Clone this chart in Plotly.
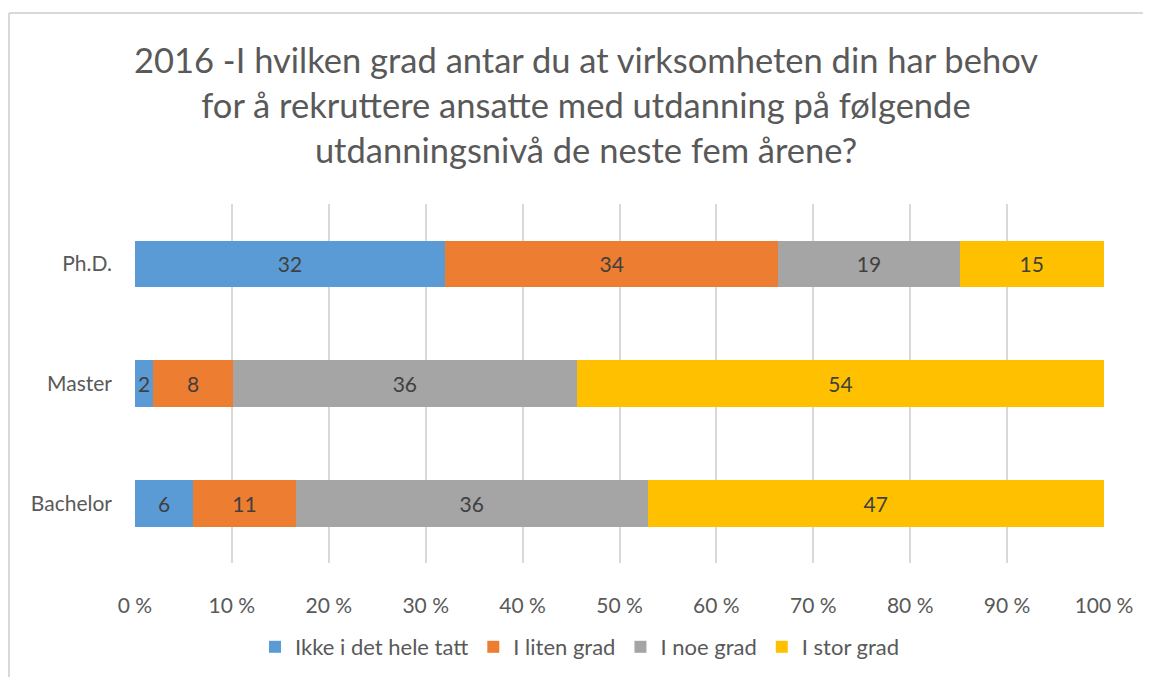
import plotly.graph_objects as go

categories = ["Ph.D.", "Master", "Bachelor"]
series_names = ["Ikke i det hele tatt", "I liten grad", "I noe grad", "I stor grad"]
ikke = [32.0, 1.9, 6.0]
liten = [34.4, 8.2, 10.6]
noe = [18.7, 35.5, 36.3]
stor = [14.9, 54.4, 47.1]
labels_ikke = ["32", "2", "6"]
labels_liten = ["34", "8", "11"]
labels_noe = ["19", "36", "36"]
labels_stor = ["15", "54", "47"]
tick_vals = [0, 10, 20, 30, 40, 50, 60, 70, 80, 90, 100]
tick_text = ["0 %", "10 %", "20 %", "30 %", "40 %", "50 %", "60 %", "70 %", "80 %", "90 %", "100 %"]
colors = ["#5B9BD5", "#ED7D31", "#A5A5A5", "#FFC000"]

FONT = "Lato"
TXT = "#595959"

# page body has an 8px margin; work in screen coordinates and shift
OFF = 8
SW, SH = 1151, 677          # screen size
W, H = SW - OFF, SH - OFF   # figure size
# plot area in screen pixels
X0, X1, Y0, Y1 = 135, 1104, 204, 563
L, R, T, B = X0 - OFF, SW - X1, Y0 - OFF, SH - Y1
pw, ph = X1 - X0, Y1 - Y0

def px(x):
    return (x - X0) / pw

def py(y):
    return (Y1 - y) / ph

fig = go.Figure()
for name, vals, labs, col in zip(series_names, [ikke, liten, noe, stor],
                                  [labels_ikke, labels_liten, labels_noe, labels_stor], colors):
    fig.add_trace(go.Bar(
        y=categories, x=vals, name=name, orientation="h",
        marker=dict(color=col, line=dict(width=0)),
        text=labs, textposition="inside", insidetextanchor="middle",
        textangle=0, constraintext="none",
        insidetextfont=dict(family=FONT, size=21, color="#404040"),
        hoverinfo="skip",
    ))

fig.update_layout(
    width=W, height=H,
    barmode="stack", bargap=0.61,
    margin=dict(l=L, r=R, t=T, b=B, autoexpand=False),
    paper_bgcolor="white", plot_bgcolor="white",
    font=dict(family=FONT, color=TXT),
    title=dict(
        text="2016 -I hvilken grad antar du at virksomheten din har behov<br>for å rekruttere ansatte med utdanning på følgende<br>utdanningsnivå de neste fem årene?",
        x=(586 - OFF) / W, xanchor="center", xref="container",
        y=1 - (73 - OFF) / H, yanchor="middle", yref="container",
        font=dict(family=FONT, size=34.5, color=TXT),
    ),
    xaxis=dict(
        range=[0, 100], tickvals=tick_vals, ticktext=tick_text,
        showgrid=True, gridcolor="#D9D9D9", gridwidth=2,
        zeroline=False, showline=False, ticks="",
        tickfont=dict(family=FONT, size=21, color=TXT),
        ticklabelstandoff=28,
    ),
    yaxis=dict(
        autorange="reversed", showgrid=False, zeroline=False, showline=False,
        ticks="", tickfont=dict(family=FONT, size=21, color=TXT),
        ticklabelstandoff=22,
    ),
    legend=dict(
        orientation="h", x=px(580), xanchor="center", y=py(647), yanchor="middle",
        font=dict(family=FONT, size=22, color=TXT), traceorder="normal",
        itemwidth=30,
    ),
    showlegend=True,
)

# outer chart border (light gray), top and left edges visible
fig.add_shape(type="line", xref="paper", yref="paper",
              x0=px(9), x1=px(SW + 5), y0=py(13), y1=py(13),
              line=dict(color="#D9D9D9", width=2))
fig.add_shape(type="line", xref="paper", yref="paper",
              x0=px(9), x1=px(9), y0=py(13), y1=py(SH + 5),
              line=dict(color="#D9D9D9", width=2))

fig.write_html("out.html")
